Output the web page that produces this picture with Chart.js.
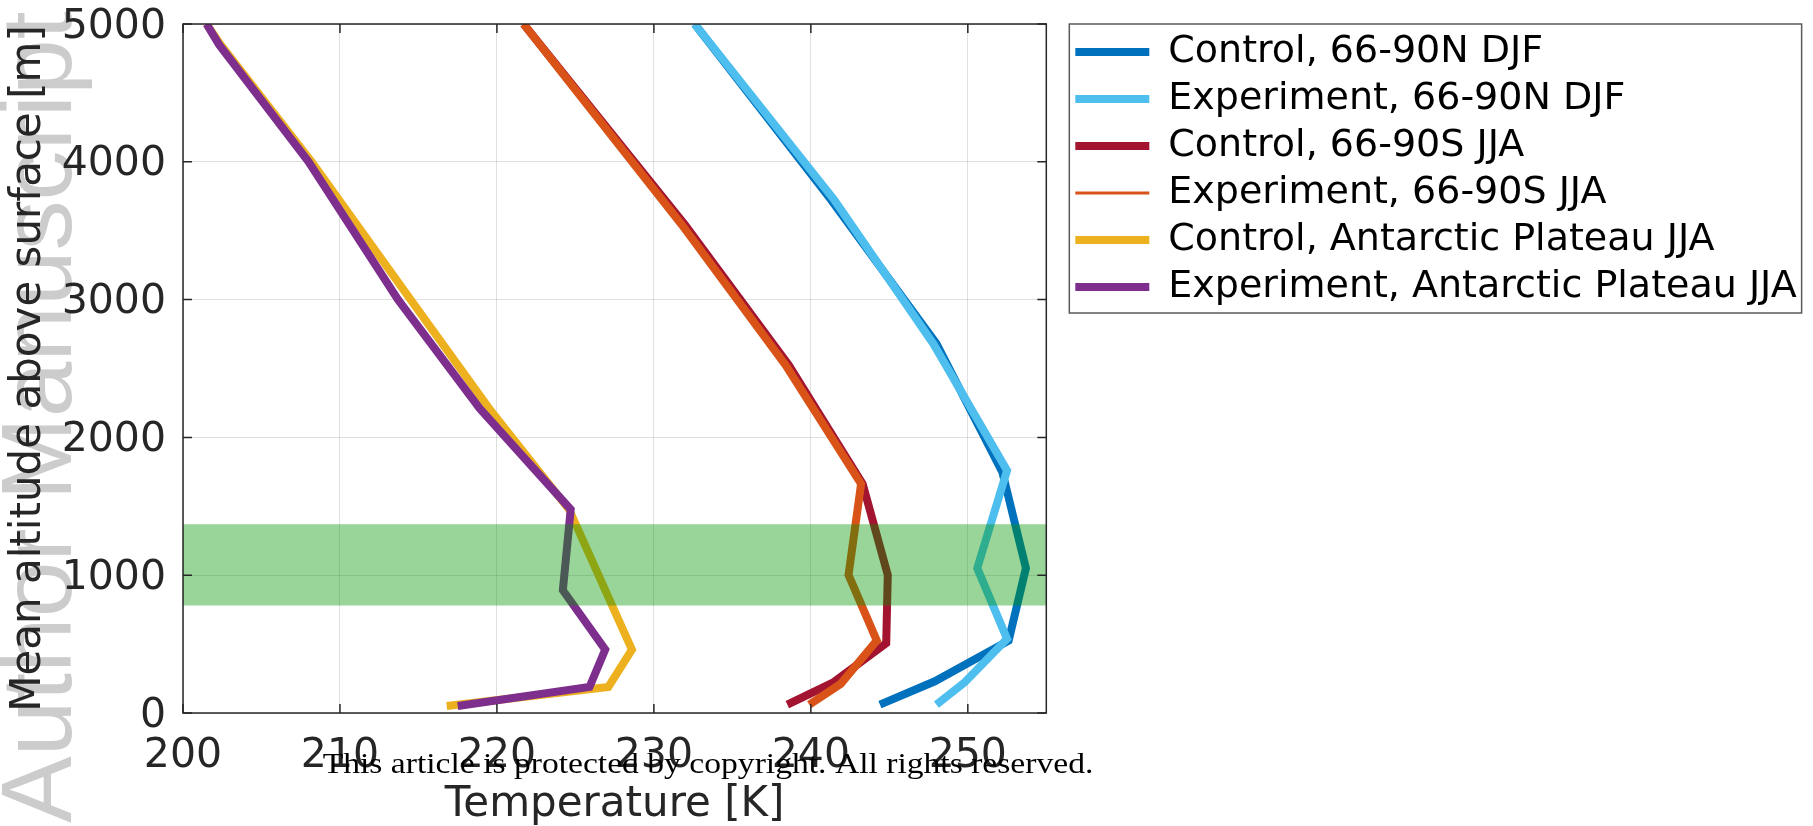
<!DOCTYPE html>
<html>
<head>
<meta charset="utf-8">
<title>Temperature profiles</title>
<script src="https://cdn.jsdelivr.net/npm/chart.js@4.4.1/dist/chart.umd.min.js"></script>
<style>
  html, body { margin: 0; padding: 0; background: #fff; }
  #wrap { width: 1813px; height: 826px; }
</style>
</head>
<body>
<div id="wrap"><canvas id="chart" width="1813" height="826"></canvas></div>
<script>
// mean altitude above surface [m] and temperature [K], from the surface up
const altCtlN  = [61, 230, 525, 1051, 1748, 2680, 3722, 5000];
const tempCtlN = [244.4, 247.9, 252.6, 253.7, 252.2, 248.0, 241.3, 232.6];
const altExpN  = [61, 223, 538, 1051, 1760, 2680, 3722, 5000];
const tempExpN = [248.0, 249.8, 252.5, 250.6, 252.5, 247.8, 241.5, 232.6];

const altCtlS  = [61, 220, 506, 1002, 1663, 2523, 3540, 5000];
const tempCtlS = [238.5, 241.4, 244.8, 244.9, 243.3, 238.6, 232.0, 221.7];
const altExpS  = [61, 211, 525, 1002, 1663, 2523, 3540, 5000];
const tempExpS = [239.9, 241.9, 244.2, 242.4, 243.2, 238.4, 231.8, 221.7];

const altCtlA  = [51, 189, 460, 891, 1477, 2210, 3000, 4000, 4850, 5000];
const tempCtlA = [216.8, 227.1, 228.6, 226.9, 224.6, 219.5, 214.5, 208.2, 202.4, 201.5];
const altExpA  = [51, 189, 460, 891, 1477, 2210, 3000, 4000, 4850, 5000];
const tempExpA = [217.5, 225.9, 226.9, 224.2, 224.7, 218.9, 213.7, 208.0, 202.3, 201.5];

const seriesNames = [
  'Control, 66-90N DJF',
  'Experiment, 66-90N DJF',
  'Control, 66-90S JJA',
  'Experiment, 66-90S JJA',
  'Control, Antarctic Plateau JJA',
  'Experiment, Antarctic Plateau JJA'
];
const seriesColors = ['#0072BD', '#4DBEEE', '#A2142F', '#D95319', '#EDB120', '#7E2F8E'];
const legendLineWidths = [8, 8, 8, 3, 8, 8];

const xTicks = [200, 210, 220, 230, 240, 250];
const yTicks = [0, 1000, 2000, 3000, 4000, 5000];
const xRange = [200, 255];
const yRange = [0, 5000];
const bandAlt = [780, 1370];   // shaded altitude band [m]

const xTitle = 'Temperature [K]';
const yTitle = 'Mean altitude above surface [m]';
const watermark = 'Author Manuscript';
const copyright = 'This article is protected by copyright. All rights reserved.';

Chart.defaults.font.family = '"DejaVu Sans", sans-serif';
Chart.defaults.color = '#262626';

const plotTop = 24;
const plotRight = 1046;
const legendGap = 20;
const legendTop = 24;
const layoutPad = { top: 24, right: 0, bottom: 0, left: 0 };

function points(temps, alts) {
  return temps.map((t, i) => ({ x: t, y: alts[i] }));
}

const profiles = [
  points(tempCtlN, altCtlN), points(tempExpN, altExpN),
  points(tempCtlS, altCtlS), points(tempExpS, altExpS),
  points(tempCtlA, altCtlA), points(tempExpA, altExpA)
];

const decorations = {
  id: 'decorations',
  beforeDraw(chart) {
    const ctx = chart.ctx;
    ctx.save();
    ctx.fillStyle = '#fff';
    ctx.fillRect(0, 0, chart.width, chart.height);
    ctx.translate(71, 823);
    ctx.rotate(-Math.PI / 2);
    ctx.font = '100px "Liberation Sans"';
    ctx.fillStyle = '#cccccc';
    ctx.textBaseline = 'alphabetic';
    ctx.fillText(watermark, 0, 0);
    ctx.restore();
  },
  afterLayout(chart) {
    // legend sits a little right of the plot, at its full natural width
    const lg = chart.legend;
    const pad = lg.options.labels.padding;
    const natural = Math.max(...lg.legendHitBoxes.map(b => b.width)) + 2 * pad;
    const h = lg.height;
    lg.left = chart.chartArea.right + legendGap;
    lg.width = natural;
    lg.right = lg.left + natural;
    lg.top = legendTop;
    lg.bottom = legendTop + h;
  },
  afterDatasetsDraw(chart) {
    const { ctx, chartArea: a, scales: { x, y } } = chart;
    ctx.save();
    // shaded band, drawn over the lines
    const yTop = y.getPixelForValue(bandAlt[1]);
    const yBot = y.getPixelForValue(bandAlt[0]);
    ctx.fillStyle = 'rgba(0, 150, 0, 0.4)';
    ctx.fillRect(a.left, yTop, a.right - a.left, yBot - yTop);
    // axes box with inward ticks
    ctx.strokeStyle = '#262626';
    ctx.lineWidth = 1.5;
    ctx.strokeRect(a.left, a.top, a.right - a.left, a.bottom - a.top);
    ctx.beginPath();
    xTicks.forEach(v => {
      const px = x.getPixelForValue(v);
      ctx.moveTo(px, a.bottom); ctx.lineTo(px, a.bottom - 9);
      ctx.moveTo(px, a.top); ctx.lineTo(px, a.top + 9);
    });
    yTicks.forEach(v => {
      const py = y.getPixelForValue(v);
      ctx.moveTo(a.left, py); ctx.lineTo(a.left + 9, py);
      ctx.moveTo(a.right, py); ctx.lineTo(a.right - 9, py);
    });
    ctx.stroke();
    ctx.restore();
  },
  afterDraw(chart) {
    const ctx = chart.ctx;
    ctx.save();
    const boxes = chart.legend.legendHitBoxes;
    if (boxes && boxes.length) {
      const left = Math.min(...boxes.map(b => b.left)) - 6;
      const right = Math.max(...boxes.map(b => b.left + b.width)) + 5;
      const top = boxes[0].top - 9;
      const last = boxes[boxes.length - 1];
      const bottom = last.top + last.height + 7;
      ctx.strokeStyle = '#5a5a5a';
      ctx.lineWidth = 1.5;
      ctx.strokeRect(left, top, right - left, bottom - top);
    }
    ctx.translate(708, 773);
    ctx.scale(1.12, 1);
    ctx.font = '30px "Liberation Serif"';
    ctx.fillStyle = '#000';
    ctx.textAlign = 'center';
    ctx.textBaseline = 'alphabetic';
    ctx.fillText(copyright, 0, 0);
    ctx.restore();
  }
};

const chart = new Chart(document.getElementById('chart'), {
  type: 'scatter',
  data: {
    datasets: profiles.map((pts, i) => ({
      label: seriesNames[i],
      data: pts,
      showLine: true,
      borderColor: seriesColors[i],
      backgroundColor: seriesColors[i],
      borderWidth: 8,
      borderJoinStyle: 'miter',
      borderCapStyle: 'butt',
      pointRadius: 0,
      pointHoverRadius: 0,
      tension: 0,
      clip: 0,
      order: profiles.length - 1 - i
    }))
  },
  options: {
    responsive: false,
    animation: false,
    events: [],
    layout: { padding: layoutPad },
    scales: {
      x: {
        type: 'linear',
        min: xRange[0],
        max: xRange[1],
        afterBuildTicks: s => { s.ticks = xTicks.map(v => ({ value: v })); },
        afterFit: s => { s.height = 113; s.paddingLeft = 0; s.paddingRight = 0; },
        border: { display: false },
        grid: { color: 'rgba(38,38,38,0.15)', lineWidth: 1, drawTicks: false },
        ticks: { font: { size: 41 }, padding: 19, color: '#262626', maxRotation: 0, callback: v => String(v) },
        title: {
          display: true, text: xTitle, color: '#262626',
          font: { size: 42, lineHeight: 1 }, padding: { top: 0, bottom: 0 }
        }
      },
      y: {
        type: 'linear',
        min: yRange[0],
        max: yRange[1],
        afterBuildTicks: s => { s.ticks = yTicks.map(v => ({ value: v })); },
        afterFit: s => { s.width = 183; s.paddingTop = 0; s.paddingBottom = 0; },
        border: { display: false },
        grid: { color: 'rgba(38,38,38,0.15)', lineWidth: 1, drawTicks: false },
        ticks: { font: { size: 41 }, padding: 17, labelOffset: 3, color: '#262626', callback: v => String(v) },
        title: {
          display: true, text: yTitle, color: '#262626',
          font: { size: 42, lineHeight: 1 }, padding: { top: 8, bottom: 0 }
        }
      }
    },
    plugins: {
      tooltip: { enabled: false },
      legend: {
        position: 'right',
        align: 'start',
        labels: {
          font: { size: 38 },
          color: '#000',
          padding: 9,
          usePointStyle: true,
          pointStyleWidth: 74,
          generateLabels: c => c.data.datasets.map((ds, i) => ({
            text: ds.label,
            fillStyle: ds.borderColor,
            strokeStyle: ds.borderColor,
            lineWidth: legendLineWidths[i],
            lineCap: 'butt',
            pointStyle: 'line',
            hidden: false,
            datasetIndex: i,
            fontColor: '#000'
          }))
        }
      }
    }
  },
  plugins: [decorations]
});

// fit the plot area's top and right edges
for (let k = 0; k < 12; k++) {
  const dr = chart.chartArea.right - plotRight;
  const dt = chart.chartArea.top - plotTop;
  if (Math.abs(dr) < 0.5 && Math.abs(dt) < 0.5) break;
  layoutPad.right += dr;
  layoutPad.top = Math.max(0, layoutPad.top - dt);
  chart.update();
}
</script>
</body>
</html>
